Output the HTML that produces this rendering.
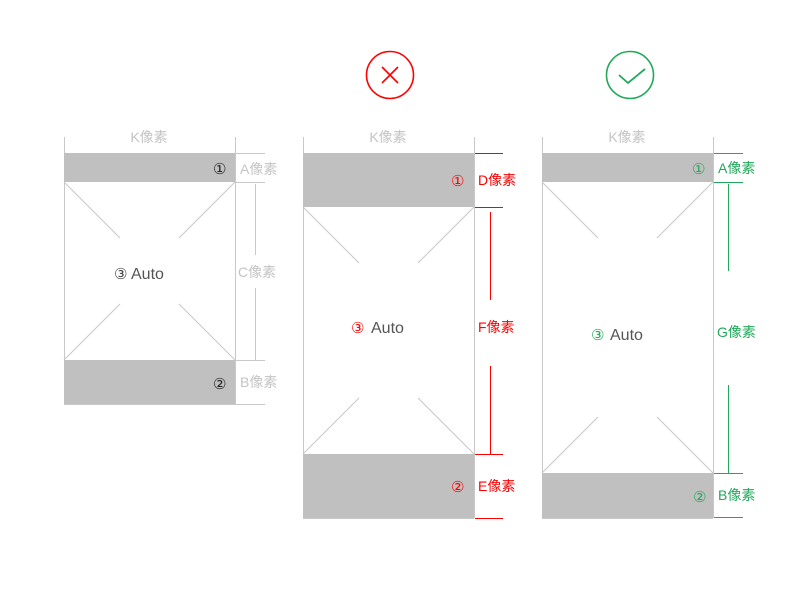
<!DOCTYPE html>
<html><head><meta charset="utf-8"><style>
html,body{margin:0;padding:0;background:#fff;width:800px;height:600px;overflow:hidden}
svg{display:block}
text{font-family:"Liberation Sans","Noto Sans CJK SC",sans-serif}
.c{font-family:"DejaVu Sans",sans-serif;font-size:15px}
</style></head><body>
<svg width="800" height="600" viewBox="0 0 800 600" xmlns="http://www.w3.org/2000/svg">
<circle cx="390" cy="75" r="23.5" fill="none" stroke="#f00" stroke-width="1.6"/>
<path d="M382 67 L398 83 M398 67 L382 83" stroke="#f00" stroke-width="1.6"/>
<circle cx="630" cy="75" r="23.5" fill="none" stroke="#21a85a" stroke-width="1.6"/>
<path d="M619 75 L628 83 L645 69" fill="none" stroke="#21a85a" stroke-width="1.8"/>

<g stroke="#c8c8c8" stroke-width="1" fill="none">
<line x1="64.5" y1="137" x2="64.5" y2="404"/>
<line x1="235.5" y1="137" x2="235.5" y2="404"/>
<line x1="64" y1="404.5" x2="265" y2="404.5"/>
<line x1="235" y1="153.5" x2="265" y2="153.5"/>
<line x1="235" y1="182.5" x2="265" y2="182.5"/>
<line x1="235" y1="360.5" x2="265" y2="360.5"/>
<line x1="255.5" y1="184" x2="255.5" y2="255"/>
<line x1="255.5" y1="288" x2="255.5" y2="360"/>
<path d="M64 182 L120 238 M235 182 L179 238 M64 360 L120 304 M235 360 L179 304"/>
<line x1="303.5" y1="137" x2="303.5" y2="518"/>
<line x1="474.5" y1="137" x2="474.5" y2="518"/>
<line x1="303" y1="518.5" x2="474" y2="518.5"/>
<path d="M303 207 L359 263 M474 207 L418 263 M303 454 L359 398 M474 454 L418 398"/>
<line x1="542.5" y1="137" x2="542.5" y2="518"/>
<line x1="713.5" y1="137" x2="713.5" y2="518"/>
<line x1="542" y1="518.5" x2="713" y2="518.5"/>
<path d="M542 182 L598 238 M713 182 L657 238 M542 473 L598 417 M713 473 L657 417"/>
</g>
<rect x="64" y="153" width="171" height="29" fill="#c0c0c0"/>
<rect x="64" y="360" width="171" height="44" fill="#c0c0c0"/>
<rect x="303" y="153" width="171" height="54" fill="#c0c0c0"/>
<rect x="303" y="454" width="171" height="64" fill="#c0c0c0"/>
<rect x="542" y="153" width="171" height="29" fill="#c0c0c0"/>
<rect x="542" y="473" width="171" height="45" fill="#c0c0c0"/>

<g stroke="#f00" stroke-width="1">
<line x1="475" y1="153.5" x2="503" y2="153.5"/>
<line x1="475" y1="207.5" x2="503" y2="207.5"/>
<line x1="475" y1="454.5" x2="503" y2="454.5"/>
<line x1="475" y1="518.5" x2="503" y2="518.5"/>
<line x1="490.5" y1="212" x2="490.5" y2="300"/>
<line x1="490.5" y1="366" x2="490.5" y2="454"/>
</g>
<g stroke="#21a85a" stroke-width="1">
<line x1="714" y1="153.5" x2="743" y2="153.5"/>
<line x1="714" y1="182.5" x2="743" y2="182.5"/>
<line x1="714" y1="473.5" x2="743" y2="473.5"/>
<line x1="714" y1="517.5" x2="743" y2="517.5"/>
<line x1="728.5" y1="184" x2="728.5" y2="271"/>
<line x1="728.5" y1="385" x2="728.5" y2="473"/>
</g>

<g font-size="14" fill="#c4c4c4">
<text x="149" y="142" text-anchor="middle">K像素</text>
<text x="388" y="142" text-anchor="middle">K像素</text>
<text x="627" y="142" text-anchor="middle">K像素</text>
<text x="240" y="174">A像素</text>
<text x="238" y="277">C像素</text>
<text x="240" y="387">B像素</text>
</g>
<g fill="#222">
<text class="c" x="213" y="174">①</text>
<text class="c" x="213" y="389">②</text>
</g>
<text class="c" x="114" y="279" fill="#444">③</text>
<text x="131" y="279" font-size="16" fill="#555">Auto</text>

<g font-size="14" fill="#f00">
<text class="c" x="451" y="186">①</text>
<text x="478" y="185">D像素</text>
<text x="478" y="332">F像素</text>
<text class="c" x="451" y="492">②</text>
<text x="478" y="491">E像素</text>
</g>
<text class="c" x="351" y="333" fill="#f00">③</text>
<text x="371" y="333" font-size="16" fill="#555">Auto</text>

<g font-size="14" fill="#21a85a">
<text class="c" x="692" y="174">①</text>
<text x="718" y="173">A像素</text>
<text x="717" y="337">G像素</text>
<text class="c" x="693" y="502">②</text>
<text x="718" y="500">B像素</text>
</g>
<text class="c" x="591" y="340" fill="#21a85a">③</text>
<text x="610" y="340" font-size="16" fill="#555">Auto</text>
</svg>
</body></html>
